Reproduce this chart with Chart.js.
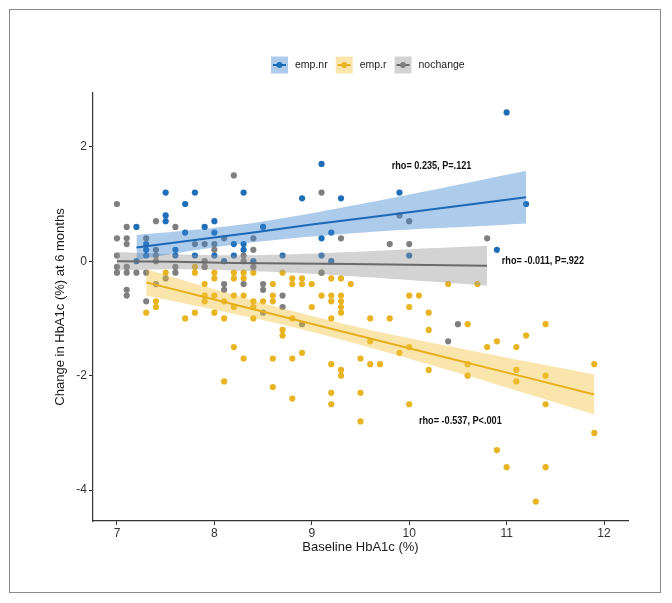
<!DOCTYPE html>
<html>
<head>
<meta charset="utf-8">
<script src="https://cdn.jsdelivr.net/npm/chart.js@4.4.1/dist/chart.umd.min.js"></script>
<style>
  html, body { margin: 0; padding: 0; background: #fff; }
  #wrap { width: 672px; height: 603px; position: relative; }
</style>
</head>
<body>
<div id="wrap"><canvas id="scatterChart" width="672" height="603"></canvas></div>
<script>
// emp.nr (blue)
const empNrX = [7.2, 7.2, 7.3, 7.3, 7.3, 7.5, 7.5, 7.5, 7.6, 7.6, 7.7, 7.7, 7.8, 7.8, 7.9, 8.0, 8.0, 8.0, 8.1, 8.2,
                8.2, 8.3, 8.3, 8.3, 8.4, 8.5, 8.7, 8.9, 9.1, 9.1, 9.1, 9.2, 9.2, 9.3, 9.9, 10.0, 10.9, 11.0, 11.2];
const empNrY = [0.6, 0.0, 0.3, 0.2, 0.1, 1.2, 0.8, 0.7, 0.2, 0.1, 1.0, 0.5, 1.2, 0.1, 0.6, 0.7, 0.5, 0.1, 0.0, 0.3,
                0.1, 1.2, 0.3, 0.2, 0.0, 0.6, 0.1, 1.1, 1.7, 0.4, 0.1, 0.5, 0.0, 1.1, 1.2, 0.1, 0.2, 2.6, 1.0];

// emp.r (yellow)
const empRX = [7.3, 7.4, 7.4, 7.5, 7.7, 7.8, 7.8, 7.8, 7.9, 7.9, 7.9, 7.9, 8.0, 8.0, 8.0, 8.0, 8.1, 8.1, 8.1,
               8.2, 8.2, 8.2, 8.2, 8.2, 8.3, 8.3, 8.3, 8.3, 8.4, 8.4, 8.4, 8.4, 8.5, 8.6, 8.6, 8.6, 8.6, 8.6,
               8.7, 8.7, 8.7, 8.8, 8.8, 8.8, 8.8, 8.8, 8.9, 8.9, 8.9, 9.0, 9.0, 9.1, 9.1,
               9.2, 9.2, 9.2, 9.2, 9.2, 9.2, 9.2, 9.3, 9.3, 9.3, 9.3, 9.3, 9.3, 9.3, 9.4,
               9.5, 9.5, 9.5, 9.6, 9.6, 9.6, 9.7, 9.8, 9.9, 10.0, 10.0, 10.0, 10.0, 10.1,
               10.2, 10.2, 10.2, 10.4, 10.6, 10.6, 10.6, 10.7, 10.8, 10.9, 10.9, 11.0,
               11.1, 11.1, 11.1, 11.2, 11.3, 11.4, 11.4, 11.4, 11.4, 11.9, 11.9];
const empRY = [-0.9, -0.7, -0.8, -0.2, -1.0, -0.1, -0.2, -0.9, -0.1, -0.4, -0.6, -0.7, -0.2, -0.3, -0.6, -0.9, -0.7, -1.0, -2.1,
               -0.2, -0.3, -0.6, -0.8, -1.5, -0.2, -0.3, -0.6, -1.7, -0.2, -0.7, -0.8, -1.0, -0.7, -0.4, -0.6, -0.7, -1.7, -2.2,
               -0.2, -1.2, -1.3, -0.3, -0.4, -1.0, -1.7, -2.4, -0.3, -0.4, -1.6, -0.4, -0.8, -0.2, -0.6,
               -0.3, -0.6, -0.7, -1.0, -1.8, -2.3, -2.5, -0.3, -0.6, -0.7, -0.8, -0.9, -1.9, -2.0, -0.4,
               -1.7, -2.3, -2.8, -1.0, -1.4, -1.8, -1.8, -1.0, -1.6, -0.6, -0.8, -1.5, -2.5, -0.6,
               -0.9, -1.2, -1.9, -0.4, -1.1, -1.8, -2.0, -0.4, -1.5, -1.4, -3.3, -3.6,
               -1.5, -1.9, -2.1, -1.3, -4.2, -1.1, -2.0, -2.5, -3.6, -1.8, -3.0];

// nochange (grey)
const noChangeX = [7.0, 7.0, 7.0, 7.0, 7.0, 7.1, 7.1, 7.1, 7.1, 7.1, 7.1, 7.1, 7.2, 7.3, 7.3, 7.3, 7.4, 7.4, 7.4,
                   7.4, 7.4, 7.5, 7.6, 7.6, 7.6, 7.8, 7.9, 7.9, 7.9, 8.0, 8.0, 8.1, 8.1, 8.1, 8.2, 8.3, 8.3,
                   8.3, 8.4, 8.4, 8.4, 8.5, 8.5, 8.5, 8.7, 8.7, 8.9, 9.1, 9.1, 9.3, 9.8, 9.9, 10.0, 10.0,
                   10.4, 10.5, 10.8];
const noChangeY = [1.0, 0.4, 0.1, -0.1, -0.2, 0.6, 0.4, 0.3, -0.1, -0.2, -0.5, -0.6, -0.2, 0.4, -0.2, -0.7, 0.7, 0.2, 0.1,
                   0.0, -0.4, -0.3, 0.6, -0.1, -0.2, 0.3, 0.3, 0.0, -0.1, 0.3, 0.2, 0.4, -0.4, -0.5, 1.5, 0.1, 0.0,
                   -0.4, 0.4, 0.2, -0.1, -0.4, -0.5, -0.9, -0.6, -0.8, -1.1, 1.2, -0.2, 0.4, 0.3, 0.8, 0.7, 0.3,
                   -1.4, -1.1, 0.4];

// fitted lines and confidence bands
const empNrFitX = [7.2, 7.8, 8.4, 9.0, 9.6, 10.2, 10.8, 11.2];
const empNrFitY = [0.24, 0.37, 0.50, 0.64, 0.77, 0.90, 1.03, 1.12];
const empNrLow  = [0.02, 0.19, 0.33, 0.43, 0.51, 0.57, 0.62, 0.66];
const empNrHigh = [0.46, 0.55, 0.67, 0.84, 1.03, 1.23, 1.44, 1.58];

const empRFitX = [7.3, 8.0, 8.8, 9.6, 10.4, 11.2, 11.9];
const empRFitY = [-0.37, -0.67, -1.01, -1.35, -1.69, -2.03, -2.33];
const empRLow  = [-0.60, -0.85, -1.15, -1.51, -1.90, -2.31, -2.68];
const empRHigh = [-0.14, -0.49, -0.87, -1.20, -1.48, -1.75, -1.98];

const noChangeFitX = [7.0, 7.6, 8.2, 8.8, 9.4, 10.0, 10.8];
const noChangeFitY = [0.00, -0.01, -0.03, -0.04, -0.05, -0.06, -0.08];
const noChangeLow  = [-0.16, -0.14, -0.16, -0.20, -0.26, -0.33, -0.43];
const noChangeHigh = [0.16, 0.12, 0.10, 0.12, 0.16, 0.21, 0.27];

const groupNames = ["emp.nr", "emp.r", "nochange"];
const xTicks = [7, 8, 9, 10, 11, 12];
const yTicks = [-4, -2, 0, 2];

const rhoLabels = [
    { text: "rho= 0.235, P=.121", x: 9.82, y: 1.67 },
    { text: "rho= -0.011, P=.922", x: 10.95, y: 0.01 },
    { text: "rho= -0.537, P<.001", x: 10.10, y: -2.80 }
];

const colors = {
    "emp.nr": { point: "#1F6EB8", line: "#1E69B5", band: "rgba(60,130,205,0.42)" },
    "emp.r": { point: "#E9B422", line: "#E6AF1C", band: "rgba(242,195,60,0.42)" },
    "nochange": { point: "#7F7F7F", line: "#6A6A6A", band: "rgba(150,150,150,0.42)" }
};

const zip = (xs, ys) => xs.map((x, i) => ({ x: x, y: ys[i] }));

function pointSet(name, xs, ys) {
    return {
        label: name, type: "scatter", data: zip(xs, ys), order: 3,
        backgroundColor: colors[name].point, borderWidth: 0, pointRadius: 3.1, pointHoverRadius: 3.1
    };
}
function bandSets(name, xs, low, high) {
    return [
        { label: name + " hi", type: "line", data: zip(xs, high), order: 2, fill: "+1",
          backgroundColor: colors[name].band, borderWidth: 0, pointRadius: 0, tension: 0.3 },
        { label: name + " lo", type: "line", data: zip(xs, low), order: 2, fill: false,
          borderWidth: 0, pointRadius: 0, tension: 0.3 }
    ];
}
function fitSet(name, xs, ys) {
    return { label: name + " fit", type: "line", data: zip(xs, ys), order: 1, fill: false,
             borderColor: colors[name].line, borderWidth: 2, pointRadius: 0 };
}

const frame = {
    id: "frame",
    beforeDraw(chart) {
        const ctx = chart.ctx;
        ctx.save();
        ctx.strokeStyle = "#8c8c8c";
        ctx.lineWidth = 1;
        ctx.strokeRect(9.5, 9.5, 651, 583);
        ctx.restore();
    }
};

const legendKeys = {
    id: "legendKeys",
    afterDraw(chart) {
        const ctx = chart.ctx;
        ctx.save();
        ctx.font = "10.5px 'Liberation Sans', Arial, sans-serif";
        ctx.textBaseline = "middle";
        let x = 271;
        const cy = 65;
        groupNames.forEach(name => {
            ctx.fillStyle = colors[name].band;
            ctx.fillRect(x, cy - 8.5, 17, 17);
            ctx.strokeStyle = colors[name].line;
            ctx.lineWidth = 2;
            ctx.beginPath();
            ctx.moveTo(x + 2, cy);
            ctx.lineTo(x + 15, cy);
            ctx.stroke();
            ctx.fillStyle = colors[name].point;
            ctx.beginPath();
            ctx.arc(x + 8.5, cy, 3, 0, Math.PI * 2);
            ctx.fill();
            ctx.fillStyle = "#1a1a1a";
            ctx.fillText(name, x + 24, cy);
            x += 24 + ctx.measureText(name).width + 8;
        });
        ctx.restore();
    }
};

const rhoText = {
    id: "rhoText",
    afterDatasetsDraw(chart) {
        const ctx = chart.ctx;
        const sx = chart.scales.x, sy = chart.scales.y;
        ctx.save();
        ctx.font = "bold 10.5px 'Liberation Sans', Arial, sans-serif";
        ctx.fillStyle = "#111";
        ctx.textBaseline = "middle";
        rhoLabels.forEach(l => {
            // narrow, Calibri-like setting
            const w = ctx.measureText(l.text).width * 0.87;
            ctx.fillText(l.text, sx.getPixelForValue(l.x), sy.getPixelForValue(l.y), w);
        });
        ctx.restore();
    }
};

document.addEventListener("DOMContentLoaded", () => {
    const ctx = document.getElementById("scatterChart").getContext("2d");
    new Chart(ctx, {
        type: "scatter",
        data: {
            datasets: [
                fitSet("emp.nr", empNrFitX, empNrFitY),
                fitSet("emp.r", empRFitX, empRFitY),
                fitSet("nochange", noChangeFitX, noChangeFitY),
                ...bandSets("emp.nr", empNrFitX, empNrLow, empNrHigh),
                ...bandSets("emp.r", empRFitX, empRLow, empRHigh),
                ...bandSets("nochange", noChangeFitX, noChangeLow, noChangeHigh),
                pointSet("nochange", noChangeX, noChangeY),
                pointSet("emp.r", empRX, empRY),
                pointSet("emp.nr", empNrX, empNrY)
            ]
        },
        options: {
            responsive: false,
            animation: false,
            events: [],
            layout: { padding: { left: 53, right: 44, top: 93, bottom: 48 } },
            plugins: { legend: { display: false }, tooltip: { enabled: false } },
            scales: {
                x: {
                    type: "linear", min: 6.754, max: 12.246,
                    afterBuildTicks: s => { s.ticks = xTicks.map(v => ({ value: v })); },
                    afterFit: s => { s.height = 34; },
                    grid: { drawOnChartArea: false, drawTicks: true, tickLength: 4, color: "#333" },
                    border: { display: true, color: "#333", width: 1.2 },
                    ticks: { color: "#333", padding: 1, font: { size: 12, family: "'Liberation Sans', Arial, sans-serif" } },
                    title: { display: true, text: "Baseline HbA1c (%)", color: "#1a1a1a", padding: 0,
                             font: { size: 13, family: "'Liberation Sans', Arial, sans-serif" } }
                },
                y: {
                    type: "linear", min: -4.54, max: 2.94,
                    afterBuildTicks: s => { s.ticks = yTicks.map(v => ({ value: v })); },
                    afterFit: s => { s.width = 40; },
                    grid: { drawOnChartArea: false, drawTicks: true, tickLength: 4, color: "#333" },
                    border: { display: true, color: "#333", width: 1.2 },
                    ticks: { color: "#333", padding: 2, font: { size: 12, family: "'Liberation Sans', Arial, sans-serif" } },
                    title: { display: true, text: "Change in HbA1c (%) at 6 months", color: "#1a1a1a", padding: 0,
                             font: { size: 13, family: "'Liberation Sans', Arial, sans-serif" } }
                }
            }
        },
        plugins: [frame, rhoText, legendKeys]
    });
});
</script>
</body>
</html>
